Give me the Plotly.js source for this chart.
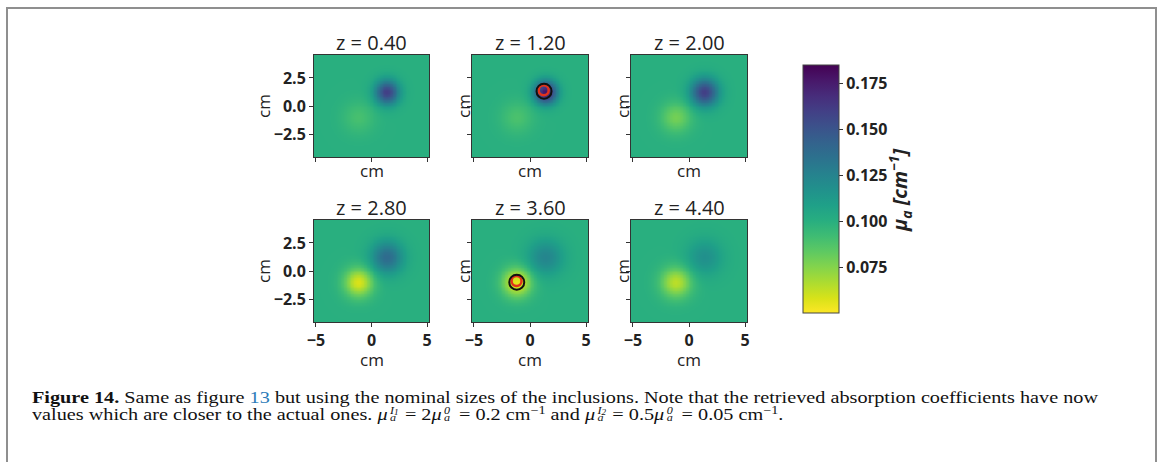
<!DOCTYPE html>
<html>
<head>
<meta charset="utf-8">
<script src="https://cdn.plot.ly/plotly-3.0.1.min.js"></script>
<style>
  html, body { margin:0; padding:0; background:#fff; }
  #wrap { position:relative; width:1168px; height:462px; overflow:hidden; }
  #frame { position:absolute; left:6px; top:7px; width:1151px; height:480px; border:2px solid #8f8f8f; box-sizing:border-box; }
  #chart { position:absolute; left:0; top:0; width:1168px; height:462px; }
  #caption { position:absolute; left:32px; top:389px; font-family:"Liberation Serif","DejaVu Serif",serif; font-size:16.5px; line-height:17px; color:#111; white-space:nowrap; }
  #caption .line { display:block; transform-origin:0 0; height:17px; }
  #caption b { font-weight:bold; }
  #caption .ref { color:#2b7bb9; }
  #caption sup { font-size:0.7em; line-height:0; vertical-align:0.55em; }
  .ss { display:inline-block; position:relative; width:10px; height:0.8em; vertical-align:baseline; }
  .ss .sp { position:absolute; left:2px; top:-0.06em; font-size:0.6em; font-style:italic; line-height:1; }
  .ss .sb { position:absolute; left:2px; top:0.64em; font-size:0.6em; font-style:italic; line-height:1; }
  .ss .sp sub { font-size:0.75em; vertical-align:-0.2em; line-height:0; }
  i { font-style:italic; }
</style>
</head>
<body>
<div id="wrap">
  <div id="frame"></div>
  <div id="chart"></div>
  <div id="caption">
    <span class="line" id="l1"><b>Figure 14.</b> Same as figure <span class="ref">13</span> but using the nominal sizes of the inclusions. Note that the retrieved absorption coefficients have now</span>
    <span class="line" id="l2">values which are closer to the actual ones. <i>μ</i><span class="ss"><span class="sp">I<sub>1</sub></span><span class="sb">a</span></span> = 2<i>μ</i><span class="ss"><span class="sp">0</span><span class="sb">a</span></span> = 0.2 cm<sup>−1</sup> and <i>μ</i><span class="ss"><span class="sp">I<sub>2</sub></span><span class="sb">a</span></span> = 0.5<i>μ</i><span class="ss"><span class="sp">0</span><span class="sb">a</span></span> = 0.05 cm<sup>−1</sup>.</span>
  </div>
</div>
<script>
// ---- data ----
const panelTitles = ["z = 0.40", "z = 1.20", "z = 2.00", "z = 2.80", "z = 3.60", "z = 4.40"];
const backgroundMu = [0.100, 0.100, 0.100, 0.100, 0.100, 0.100];
const inclusion1Peak = [0.160, 0.178, 0.160, 0.138, 0.124, 0.118];
const inclusion2Peak = [0.090, 0.089, 0.079, 0.058, 0.055, 0.064];
const inclusion1Width = [0.75, 0.70, 0.85, 1.00, 1.10, 1.10];
const inclusion2Width = [1.00, 1.00, 0.95, 0.90, 0.90, 0.95];
const inclusion1Center = [1.35, 1.25];
const inclusion2Center = [-1.20, -1.00];
const markerPanels = [1, 4];
const trueMarkerX = [1.25, -1.18];
const trueMarkerY = [1.32, -1.00];
const retrievedMarkerX = [1.22, -1.20];
const retrievedMarkerY = [1.40, -0.90];
const xTicks = [-5, 0, 5];
const yTicks = [-2.5, 0, 2.5];
const cbarTicks = [0.075, 0.100, 0.125, 0.150, 0.175];
const muMin = 0.0505, muMax = 0.1848;

// ---- layout geometry (pixels) ----
const W = 1168, H = 462;
const colX = [[314, 429], [472, 588], [631, 747]];
const rowY = [[55, 157], [220, 322]];
const xRange = [-5.17, 5.17], yRange = [-4.55, 4.55];
const px = v => v / W, py = v => 1 - v / H;

const nx = 81, ny = 71;
const gx = [], gy = [];
for (let i = 0; i < nx; i++) gx.push(xRange[0] + (xRange[1] - xRange[0]) * i / (nx - 1));
for (let j = 0; j < ny; j++) gy.push(yRange[0] + (yRange[1] - yRange[0]) * j / (ny - 1));

function field(k) {
  const bg = backgroundMu[k];
  const a1 = inclusion1Peak[k] - bg, a2 = inclusion2Peak[k] - bg;
  const s1 = inclusion1Width[k], s2 = inclusion2Width[k];
  return gy.map(y => gx.map(x => {
    const d1 = (x - inclusion1Center[0]) ** 2 + (y - inclusion1Center[1]) ** 2;
    const d2 = (x - inclusion2Center[0]) ** 2 + (y - inclusion2Center[1]) ** 2;
    return bg + a1 * Math.exp(-d1 / (2 * s1 * s1)) + a2 * Math.exp(-d2 / (2 * s2 * s2));
  }));
}

const FONT = "Open Sans, Noto Sans, sans-serif";
const traces = [];
const layout = {
  width: W, height: H, margin: {l:0, r:0, t:0, b:0},
  paper_bgcolor: "rgba(0,0,0,0)", plot_bgcolor: "rgba(0,0,0,0)",
  showlegend: false, font: {family: FONT, color: "#222"},
  annotations: []
};

for (let k = 0; k < 6; k++) {
  const r = Math.floor(k / 3), c = k % 3;
  const ax = k === 0 ? "" : String(k + 1);
  const tr = {
    type: "heatmap", x: gx, y: gy, z: field(k),
    xaxis: "x" + ax, yaxis: "y" + ax,
    colorscale: "Viridis", reversescale: true, zmin: muMin, zmax: muMax,
    zsmooth: "best", showscale: k === 0, hoverinfo: "skip"
  };
  if (k === 0) {
    tr.colorbar = {
      x: px(803), xanchor: "left", xpad: 0, y: py(65), yanchor: "top", ypad: 0,
      thickness: 36, thicknessmode: "pixels", len: 248, lenmode: "pixels",
      outlinewidth: 1, outlinecolor: "#444",
      ticks: "outside", ticklen: 4, tickcolor: "#333",
      tickvals: cbarTicks, tickformat: ".3f",
      tickfont: {family: FONT, size: 16, weight: "bold", color: "#222"}
    };
  }
  traces.push(tr);
  layout["xaxis" + ax] = {
    domain: [px(colX[c][0]), px(colX[c][1])], range: xRange, anchor: "y" + ax,
    tickvals: xTicks, ticks: "outside", ticklen: 4, tickcolor: "#333",
    showticklabels: r === 1, tickfont: {family: FONT, size: 16, weight: "bold", color: "#222"},
    showline: true, mirror: true, linecolor: "#333", linewidth: 1,
    showgrid: false, zeroline: false, fixedrange: true
  };
  layout["yaxis" + ax] = {
    domain: [py(rowY[r][1]), py(rowY[r][0])], range: yRange, anchor: "x" + ax,
    tickvals: yTicks, tickformat: ".1f", ticks: "outside", ticklen: 4, tickcolor: "#333",
    showticklabels: c === 0, tickfont: {family: FONT, size: 16, weight: "bold", color: "#222"},
    showline: true, mirror: true, linecolor: "#333", linewidth: 1,
    showgrid: false, zeroline: false, fixedrange: true
  };
  const cx = (colX[c][0] + colX[c][1]) / 2, cy = (rowY[r][0] + rowY[r][1]) / 2;
  layout.annotations.push({text: panelTitles[k], xref: "paper", yref: "paper", x: px(cx), y: py(rowY[r][0] - 13),
    xanchor: "center", yanchor: "middle", showarrow: false, font: {family: FONT, size: 20, color: "#222"}});
  layout.annotations.push({text: "cm", xref: "paper", yref: "paper", x: px(cx), y: py(r === 0 ? rowY[r][1] + 13 : rowY[r][1] + 37),
    xanchor: "center", yanchor: "middle", showarrow: false, font: {family: FONT, size: 17, color: "#222"}});
  layout.annotations.push({text: "cm", xref: "paper", yref: "paper", x: px(c === 0 ? colX[c][0] - 51 : colX[c][0] - 9), y: py(cy),
    xanchor: "center", yanchor: "middle", textangle: -90, showarrow: false, font: {family: FONT, size: 17, color: "#222"}});
}

markerPanels.forEach((k, m) => {
  const ax = k === 0 ? "" : String(k + 1);
  traces.push({type: "scatter", mode: "markers", x: [retrievedMarkerX[m]], y: [retrievedMarkerY[m]],
    xaxis: "x" + ax, yaxis: "y" + ax, hoverinfo: "skip",
    marker: {symbol: "circle-open", size: 10, color: "#e2321c", line: {width: 2.5}}});
  traces.push({type: "scatter", mode: "markers", x: [trueMarkerX[m]], y: [trueMarkerY[m]],
    xaxis: "x" + ax, yaxis: "y" + ax, hoverinfo: "skip",
    marker: {symbol: "circle-open", size: 15, color: "#111", line: {width: 2}}});
});

layout.annotations.push({text: "<b><i>μ<sub>a</sub> [cm<sup>−1</sup>]</i></b>", xref: "paper", yref: "paper",
  x: px(900), y: py(190), xanchor: "center", yanchor: "middle", textangle: -90, showarrow: false,
  font: {family: FONT, size: 20, color: "#222"}});

Plotly.newPlot("chart", traces, layout, {displayModeBar: false, staticPlot: true});

// fit caption width to reference line length
const l1 = document.getElementById("l1"), l2 = document.getElementById("l2");
const w1 = l1.getBoundingClientRect().width;
const s = 1066 / w1;
[l1, l2].forEach(el => { el.style.transform = "scaleX(" + s + ")"; });
</script>
</body>
</html>
